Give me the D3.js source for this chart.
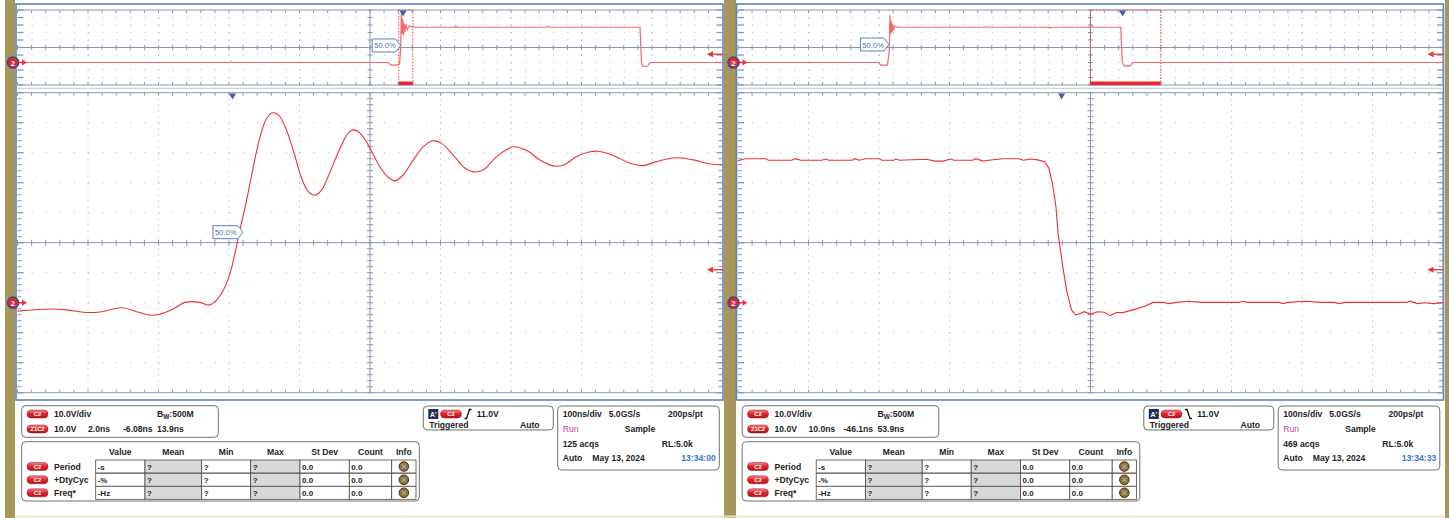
<!DOCTYPE html>
<html>
<head>
<meta charset="utf-8">
<title>Scope capture</title>
<script src="https://cdn.jsdelivr.net/npm/d3@7/dist/d3.min.js"></script>
<style>
  body { margin: 0; background: #fff; }
  svg text { font-family: "Liberation Sans", Arial, sans-serif; }
</style>
</head>
<body>
<div class="js-canvas"></div>
<script>
'use strict';

// zoom window traces, time in ns from the window centre, level in volts
const zoomTimeA = [-10.0, -9.08, -8.6, -8.13, -7.66, -7.04, -6.62, -6.19, -5.96, -5.58, -5.25, -4.82, -4.59, -4.40,
  -4.16, -3.97, -3.83, -3.71, -3.50, -3.31, -3.12, -2.93, -2.76, -2.60, -2.41, -2.18, -1.94, -1.75, -1.56, -1.37,
  -1.13, -0.85, -0.62, -0.47, -0.28, 0, 0.28, 0.52, 0.71, 0.94, 1.23, 1.51, 1.78, 2.03, 2.36, 2.70, 2.93, 3.21,
  3.59, 3.88, 4.09, 4.45, 4.82, 5.20, 5.48, 5.86, 6.24, 6.48, 6.90, 7.38, 7.75, 8.04, 8.42, 8.75, 9.17, 9.55, 10.0];
const zoomVoltA = [-2.8, -2.1, -2.4, -3.2, -3.1, -1.7, -3.0, -4.2, -3.8, -2.1, 0.1, 0.1, -0.8, 0.3,
  4.2, 9.8, 16.5, 23.3, 34.2, 45.3, 55.3, 61.5, 63.3, 62.6, 58.7, 50.9, 41.5, 37.0, 35.8, 37.6,
  43.7, 51.5, 56.5, 57.6, 56.5, 51.5, 45.3, 41.8, 40.6, 42.6, 47.6, 52.0, 54.0, 53.1, 49.2, 44.8, 43.6, 44.2,
  48.7, 51.1, 52.0, 50.7, 47.6, 45.6, 45.8, 48.7, 50.3, 50.5, 49.1, 46.5, 45.7, 46.7, 47.9, 48.3, 47.6, 46.5, 45.9];

const zoomTimeB = [-50, -48.95, -46.0, -45.7, -42.4, -41.9, -41.1, -38.1, -37.6, -37.1, -33.8, -33.4, -32.8, -31.9,
  -29.9, -29.6, -27.9, -27.6, -27.1, -23.3, -22.0, -21.0, -19.8, -19.4, -16.7, -16.3, -15.2, -14.4, -12.5, -10.2,
  -9.5, -8.5, -7.5, -6.5, -5.9, -5.4, -4.9, -4.6, -4.0, -3.4, -2.7, -2.1, -1.6, -0.9, 0, 1.0, 2.0, 2.8, 3.7, 4.6,
  6.0, 7.6, 8.9, 10.2, 11.2, 12.2, 13.8, 15.8, 21.1, 21.6, 22.4, 26.7, 27.3, 28.0, 30.6, 32.6, 34.6, 35.2, 36.2,
  44.8, 45.3, 46.4, 47.4, 48.7, 50.0];
const zoomVoltB = [47.3, 48.0, 48.0, 47.5, 47.5, 48.0, 47.5, 47.5, 47.9, 47.5, 47.5, 48.0, 47.5, 48.0,
  48.0, 47.5, 47.5, 47.9, 47.5, 47.8, 47.2, 47.2, 47.9, 47.5, 47.5, 48.0, 47.2, 47.5, 48.0, 48.0,
  47.5, 47.9, 47.6, 47.0, 44.8, 39.8, 32.0, 23.1, 13.1, 4.2, -2.4, -4.1, -3.8, -3.0, -3.8, -3.0, -3.2, -4.3, -3.3, -3.3,
  -2.4, -1.3, 0.1, 0.1, -0.3, 0.1, 0.5, 0.1, 0.1, 0.5, 0.1, 0.1, -0.3, 0.1, 0.5, 0.1, 0.1, -0.3, 0.1,
  0.1, 0.5, -0.3, 0.0, -0.3, 0.0];

// full record overview traces, time in ns from screen centre
const overTimeA = [-500, -200, -198, -196, 25, 30, 38, 42, 43.5, 44.5, 45.5, 46.5, 47.5, 48.5, 49.5, 51, 53, 56, 60,
  120, 122, 124, 250, 252, 254, 383, 385, 387, 394, 397, 500];
const overVoltA = [0, 0, 1.2, 0, 0, -3.5, -3.5, -2, 20, 68, 38, 58, 36, 52, 41, 51, 44, 49, 47,
  47, 48.3, 47, 47, 48.3, 47, 47, 0, -5, -5, 0, 0];
const overTimeB = [-500, -300, -298, -288, -285.5, -284.5, -283.5, -282.5, -281.5, -280.5, -279, -277, -274,
  -200, -150, -148, -146, -100, -60, -58, -56, -20, 0, 2, 4, 43, 45, 48, 56, 60, 500];
const overVoltB = [0, 0, -3.5, -3.5, 15, 63, 38, 55, 40, 51, 44, 48.5, 47,
  47, 47, 48.2, 47, 47, 47, 45.9, 47, 47, 47, 48.4, 47, 47, 0, -4.5, -4.5, 0, 0];

// readout texts
const zoomInfoA = ['10.0V', '2.0ns', '-6.08ns', '13.9ns'];
const zoomInfoB = ['10.0V', '10.0ns', '-46.1ns', '53.9ns'];
const measureHeads = ['Value', 'Mean', 'Min', 'Max', 'St Dev', 'Count', 'Info'];
const measureNames = ['Period', '+DtyCyc', 'Freq*'];
const measureValues = ['-s', '-%', '-Hz'];
const measureStats = ['?', '?', '?', '0.0', '0.0'];
const acqsA = '125 acqs';
const acqsB = '469 acqs';
const clockA = '13:34:00';
const clockB = '13:34:33';

const config = {
    width: 1450,
    height: 518,
    left: 17.5,
    right: 722.5,
    overTop: 10,
    overBottom: 85,
    mainTop: 92.7,
    mainBottom: 392.7,
    volts: [-30, 70]
};

const colors = {
    bezel: '#a8975a',
    frame: '#5b80c8',
    grid: '#8a95b4',
    dots: '#aab1c6',
    trace: '#ee3035',
    traceOver: '#f06a6a',
    marker: '#3d5fae',
    text: '#1e1e1e'
};

const panels = [
    { offset: 0, mainSpan: 10, zoomCentre: 50.8, trigTime: 46.9, slope: 'rise',
      mainT: zoomTimeA, mainV: zoomVoltA, overT: overTimeA, overV: overVoltA, curve: d3.curveCatmullRom,
      mainLabel: [-3.62, 23.5], overLabel: [43.5, 22.7], info: zoomInfoA, acqs: acqsA, clock: clockA },
    { offset: 720.5, mainSpan: 50, zoomCentre: 49.6, trigTime: 45.5, slope: 'fall',
      mainT: zoomTimeB, mainV: zoomVoltB, overT: overTimeB, overV: overVoltB, curve: d3.curveLinear,
      mainLabel: null, overLabel: [-286, 24], info: zoomInfoB, acqs: acqsB, clock: clockB }
];

const svg = d3.select('.js-canvas')
    .append('svg')
    .attr('width', config.width)
    .attr('height', config.height)
    ;

const grad = svg.append('defs').append('linearGradient')
    .attr('id', 'pillGrad').attr('x1', 0).attr('y1', 0).attr('x2', 0).attr('y2', 1);
grad.append('stop').attr('offset', '0%').attr('stop-color', '#f58a8a');
grad.append('stop').attr('offset', '45%').attr('stop-color', '#e3262c');
grad.append('stop').attr('offset', '100%').attr('stop-color', '#b0141a');

// bezels first, the channel markers sit on top of them
[[5, 10], [724, 12], [1445, 4]].forEach(([x, w]) => {
    svg.append('rect').attr('x', x).attr('y', 0).attr('width', w).attr('height', config.height)
        .attr('fill', colors.bezel);
});
svg.append('line').attr('x1', 15).attr('x2', 1445).attr('y1', 516.5).attr('y2', 516.5)
    .attr('stroke', '#ece3c6').attr('stroke-width', 2);

function label(g, x, y, s, opts = {}) {
    return g.append('text')
        .attr('x', x).attr('y', y)
        .attr('font-size', opts.size || 8.6)
        .attr('font-weight', opts.weight || 'bold')
        .attr('fill', opts.fill || colors.text)
        .attr('text-anchor', opts.anchor || 'start')
        .text(s);
}

function pill(g, x, y, s) {
    g.append('rect')
        .attr('x', x).attr('y', y - 4).attr('width', 21).attr('height', 8).attr('rx', 4)
        .attr('fill', 'url(#pillGrad)').attr('stroke', '#9c1218').attr('stroke-width', 0.5);
    label(g, x + 10.5, y + 2.2, s, { size: 5.8, fill: '#fff', anchor: 'middle' });
}

// one graticule: dotted divisions, solid centre cross, tick marks
function drawGrid(g, top, bottom, isMain) {
    const L = config.left, R = config.right;
    const gx = d3.scaleLinear().domain([0, 10]).range([L, R]);
    const gy = d3.scaleLinear().domain([0, 10]).range([bottom, top]);
    const grid = g.append('g');
    const divs = d3.range(1, 10).filter(i => i !== 5);
    const fifths = d3.range(0, 51).map(i => i / 5);

    grid.selectAll('line.vdot').data(divs).join('line').attr('class', 'vdot')
        .attr('x1', gx).attr('x2', gx).attr('y1', top).attr('y2', bottom)
        .attr('stroke', colors.dots).attr('stroke-dasharray', isMain ? '1,5' : '1,6.5');
    grid.selectAll('line.hdot').data(divs).join('line').attr('class', 'hdot')
        .attr('x1', L).attr('x2', R).attr('y1', gy).attr('y2', gy)
        .attr('stroke', colors.dots).attr('stroke-dasharray', '1,13.1');

    const solid = (x1, y1, x2, y2, w) => grid.append('line')
        .attr('x1', x1).attr('y1', y1).attr('x2', x2).attr('y2', y2)
        .attr('stroke', colors.grid).attr('stroke-width', w || 1);

    solid(L, top, R, top);
    solid(L, bottom, R, bottom);
    solid(R, top, R, bottom);
    solid(gx(5), top, gx(5), bottom);
    solid(L, gy(5), R, gy(5));

    const t = isMain ? 3 : 2.5;
    fifths.forEach(f => {
        solid(gx(f), gy(5) - t, gx(f), gy(5) + t);
        solid(gx(f), top, gx(f), top + 3);
        solid(gx(f), bottom - 3, gx(f), bottom);
    });
    const sideTicks = isMain ? fifths : d3.range(0, 11);
    sideTicks.forEach(f => {
        const major = Number.isInteger(f);
        solid(L, gy(f), L + (major ? 6 : 4), gy(f), major ? 1.3 : 1);
        solid(R - (major ? 6 : 4), gy(f), R, gy(f), major ? 1.3 : 1);
        if (isMain || major) solid(gx(5) - t, gy(f), gx(5) + t, gy(f));
    });
}

function groundMarker(g, y) {
    const m = g.append('g').attr('transform', `translate(13,${y})`);
    m.append('line').attr('x1', 5).attr('x2', 10).attr('y1', 0).attr('y2', 0)
        .attr('stroke', colors.trace).attr('stroke-width', 1.3);
    m.append('path').attr('d', 'M9,-3 L14,0 L9,3 Z').attr('fill', colors.trace);
    m.append('circle').attr('r', 5.6).attr('fill', '#e3232a')
        .attr('stroke', '#2f4f9e').attr('stroke-width', 1.5);
    label(m, 0, 3, '2', { size: 8, fill: '#fff', anchor: 'middle' });
}

function levelArrow(g, y) {
    g.append('line').attr('x1', 711).attr('x2', 723).attr('y1', y).attr('y2', y)
        .attr('stroke', colors.trace).attr('stroke-width', 1.3);
    g.append('path').attr('d', `M707,${y} L713,${y - 3} L713,${y + 3} Z`).attr('fill', colors.trace);
}

function trigMarker(g, x, y) {
    g.append('path').attr('d', `M${x - 3.5},${y} L${x + 3.5},${y} L${x},${y + 6} Z`).attr('fill', colors.marker);
}

function percentTag(g, x, y, w) {
    const h = 6.5;
    g.append('path')
        .attr('d', `M${x - w},${y - h} L${x - 5},${y - h} L${x},${y} L${x - 5},${y + h} L${x - w},${y + h} Z`)
        .attr('fill', '#fff').attr('stroke', colors.frame).attr('stroke-width', 1);
    label(g, x - w + 2, y + 3, '50.0%', { size: 7.6, weight: 'normal', fill: '#4d6fb5' });
}

function drawPanel(p) {
    const g = svg.append('g').attr('transform', `translate(${p.offset},0)`);

    const xMain = d3.scaleLinear().domain([-p.mainSpan, p.mainSpan]).range([config.left, config.right]);
    const xOver = d3.scaleLinear().domain([-500, 500]).range([config.left, config.right]);
    const yMain = d3.scaleLinear().domain(config.volts).range([config.mainBottom, config.mainTop]);
    const yOver = d3.scaleLinear().domain(config.volts).range([config.overBottom, config.overTop]);

    // display frame
    g.append('rect').attr('x', 16).attr('y', 4).attr('width', 707).attr('height', 396)
        .attr('fill', '#fff').attr('stroke', colors.frame).attr('stroke-width', 1.6);
    g.append('line').attr('x1', config.left).attr('x2', config.right).attr('y1', 88.3).attr('y2', 88.3)
        .attr('stroke', '#c3c9da').attr('stroke-width', 1);

    drawGrid(g, config.overTop, config.overBottom, false);
    drawGrid(g, config.mainTop, config.mainBottom, true);

    // zoom window box on the overview
    const z0 = xOver(p.zoomCentre - p.mainSpan), z1 = xOver(p.zoomCentre + p.mainSpan);
    g.append('rect').attr('x', z0).attr('y', config.overTop).attr('width', z1 - z0)
        .attr('height', config.overBottom - config.overTop)
        .attr('fill', 'none').attr('stroke', '#e8282c').attr('stroke-width', 0.8).attr('stroke-dasharray', '1.5,1.5');
    g.append('rect').attr('x', z0).attr('y', config.overBottom - 3.5).attr('width', z1 - z0).attr('height', 3.5)
        .attr('fill', '#e8262b');

    // traces
    const overLine = d3.line().x(d => xOver(d[0])).y(d => yOver(d[1]));
    g.append('path').datum(d3.zip(p.overT, p.overV)).attr('d', overLine)
        .attr('fill', 'none').attr('stroke', colors.traceOver).attr('stroke-width', 1.2);
    const mainLine = d3.line().x(d => xMain(d[0])).y(d => yMain(d[1])).curve(p.curve);
    g.append('path').datum(d3.zip(p.mainT, p.mainV)).attr('d', mainLine)
        .attr('fill', 'none').attr('stroke', colors.trace).attr('stroke-width', 1.1);

    // markers
    trigMarker(g, xOver(p.trigTime), config.overTop + 0.5);
    trigMarker(g, xMain(p.trigTime - p.zoomCentre), config.mainTop + 0.8);
    percentTag(g, xOver(p.overLabel[0]), yOver(p.overLabel[1]), 28.5);
    if (p.mainLabel) percentTag(g, xMain(p.mainLabel[0]) + 0.5, yMain(p.mainLabel[1]), 30);
    levelArrow(g, yOver(11));
    levelArrow(g, yMain(11));
    groundMarker(g, yOver(0));
    groundMarker(g, yMain(0));

    drawReadouts(g, p);
}

function drawReadouts(g, p) {
    const box = (x, y, w, h) => g.append('rect').attr('x', x).attr('y', y).attr('width', w).attr('height', h)
        .attr('rx', 4).attr('fill', '#fff').attr('stroke', '#707070').attr('stroke-width', 1);

    // channel / zoom readout
    box(21.7, 405.7, 196.6, 31.6);
    pill(g, 27, 414, 'C2');
    label(g, 54, 417, '10.0V/div');
    const bw = label(g, 157, 417, 'B');
    bw.append('tspan').attr('dy', 2).attr('font-size', 6.5).text('W');
    bw.append('tspan').attr('dy', -2).text(':500M');
    pill(g, 27, 429, 'Z1C2');
    [54, 88, 123, 157].forEach((x, i) => label(g, x, 432, p.info[i]));

    // measurement table
    box(21.7, 441.7, 397.6, 59.3);
    const cols = [95.7, 145, 201.7, 250.7, 300, 349.3, 391.7, 416];
    measureHeads.forEach((h, i) => label(g, (cols[i] + cols[i + 1]) / 2, 455.3, h, { anchor: 'middle' }));
    const rowTop = [460, 473.3, 486.3];
    measureNames.forEach((name, r) => {
        const y0 = rowTop[r];
        pill(g, 27, y0 + 6.5, 'C2');
        label(g, 54, y0 + 9.6, name);
        const cells = [measureValues[r]].concat(measureStats);
        cols.slice(0, -1).forEach((cx, c) => {
            g.append('rect').attr('x', cx).attr('y', y0).attr('width', cols[c + 1] - cx).attr('height', 13)
                .attr('fill', (c === 1 || c === 3) ? '#d8d8d8' : '#fff')
                .attr('stroke', '#4a4a4a').attr('stroke-width', 0.8);
            if (c < 6) label(g, cx + 2, y0 + 9.6, cells[c], { size: 8 });
        });
        const ic = g.append('g').attr('transform', `translate(${(cols[6] + cols[7]) / 2},${y0 + 6.5})`);
        ic.append('circle').attr('r', 4.8).attr('fill', '#a8662a').attr('stroke', '#4e2e10').attr('stroke-width', 1);
        ic.append('path').attr('d', 'M-2,-2 L2,2 M2,-2 L-2,2').attr('stroke', '#4fd0c0').attr('stroke-width', 1.2);
    });

    // trigger readout
    box(423.3, 406, 130, 24);
    g.append('rect').attr('x', 428.3).attr('y', 409).attr('width', 10).attr('height', 10).attr('fill', '#1f2d5c');
    label(g, 430, 417.3, "A'", { size: 7, fill: '#fff' });
    pill(g, 440.5, 414, 'C2');
    const sl = p.slope === 'rise' ? 'M464.5,418.5 h2 l3,-9 h2' : 'M464.5,409.5 h2 l3,9 h2';
    g.append('path').attr('d', sl).attr('fill', 'none').attr('stroke', '#111').attr('stroke-width', 1.3);
    label(g, 476.7, 417, '11.0V');
    label(g, 429.3, 428, 'Triggered');
    label(g, 520, 428, 'Auto');

    // horizontal readout
    box(557.7, 406, 161.6, 64);
    label(g, 562.7, 417, '100ns/div');
    label(g, 608.7, 417, '5.0GS/s');
    label(g, 668, 417, '200ps/pt');
    label(g, 562.7, 432, 'Run', { fill: '#c23c9c', weight: 'normal' });
    label(g, 624.7, 432, 'Sample');
    label(g, 562.7, 446.7, p.acqs);
    label(g, 661.7, 446.7, 'RL:5.0k');
    label(g, 562.7, 461.3, 'Auto');
    label(g, 592.3, 461.3, 'May 13, 2024');
    label(g, 681.3, 461.3, p.clock, { fill: '#3b74cc' });
}

panels.forEach(drawPanel);
</script>
</body>
</html>
